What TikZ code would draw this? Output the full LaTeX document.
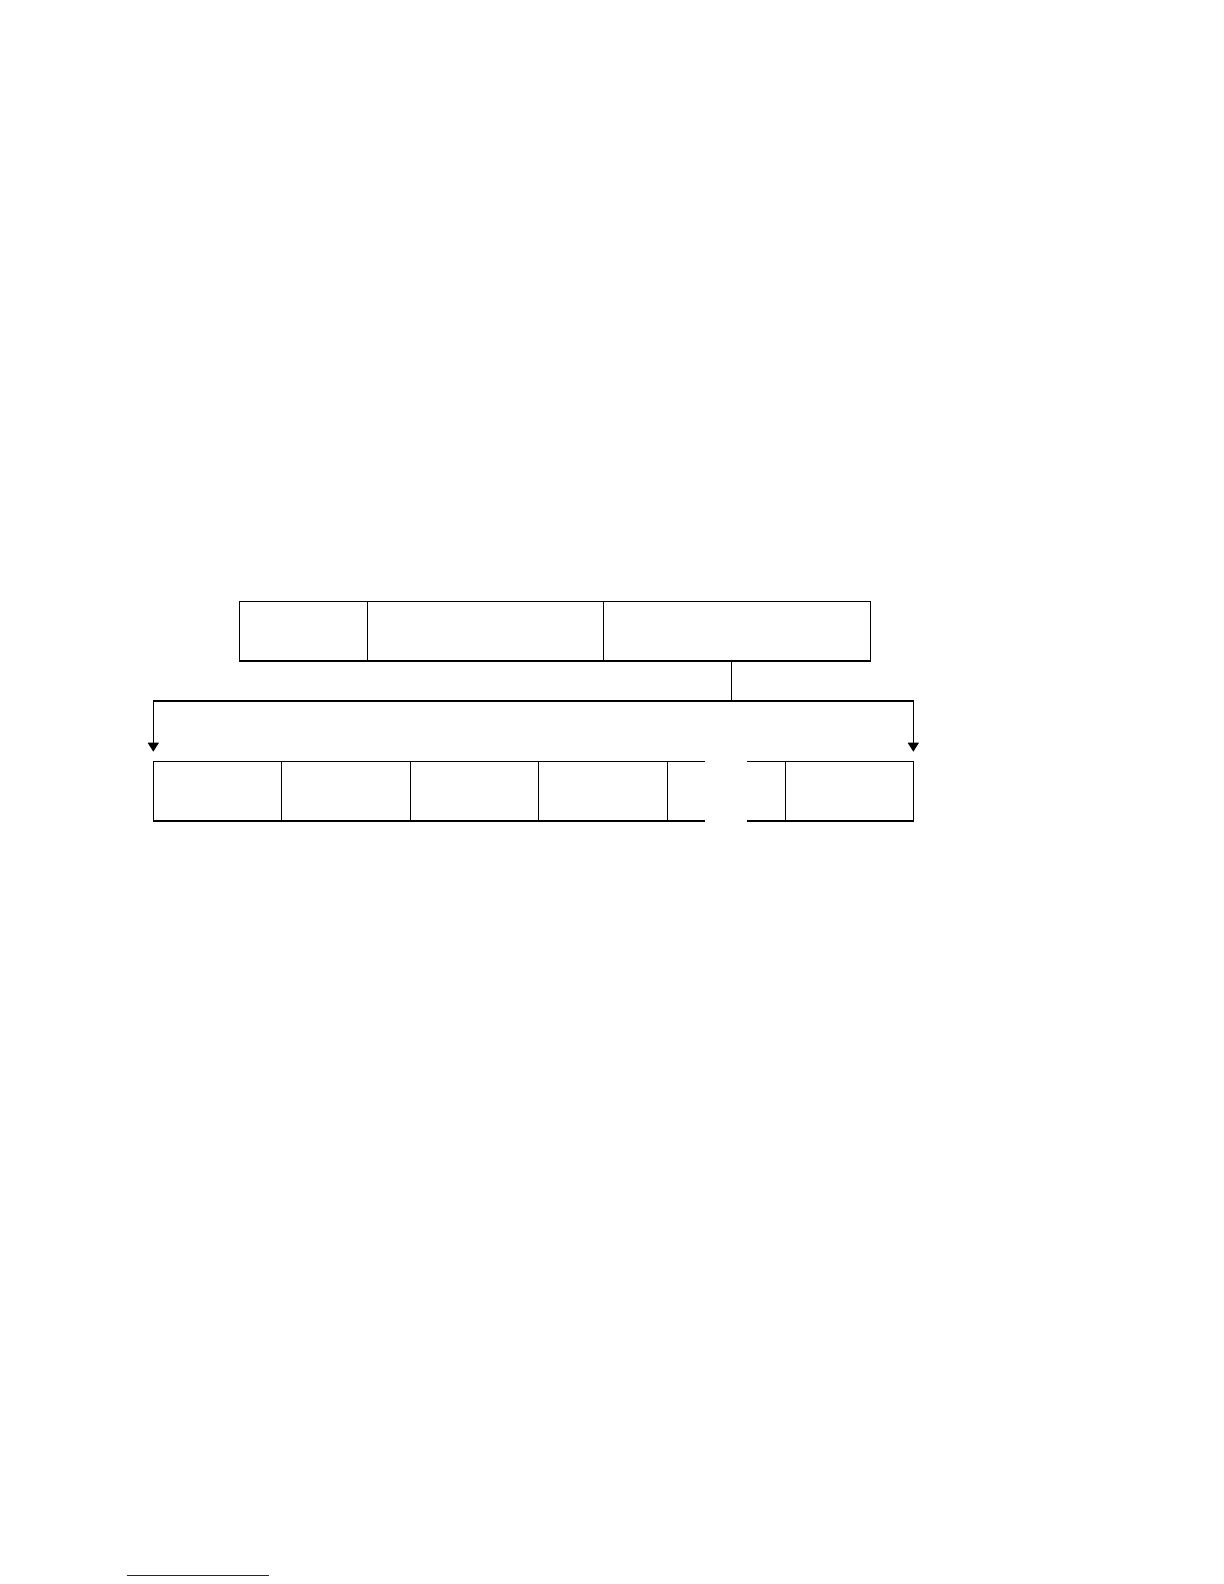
\documentclass[tikz,border=0pt]{standalone}
\usepackage{xcolor}
\usetikzlibrary{arrows.meta, calc, positioning}
\definecolor{rulenavy}{RGB}{25,25,140}

\begin{document}
\begin{tikzpicture}[x=0.5bp, y=-0.5bp, line width=0.6pt,
    cell/.style={draw, rectangle, inner sep=0pt, outer sep=0pt, minimum height=29.85bp, anchor=north west},
    gapcell/.style={rectangle, inner sep=0pt, outer sep=0pt, minimum height=29.85bp}]
        \useasboundingbox (0,0) rectangle (1224,1584);

        \node[cell, minimum width=64bp] (h1) at (239.3,601.3) {};
        \node[cell, minimum width=118bp, right=0pt of h1] (h2) {};
        \node[cell, minimum width=133.5bp, right=0pt of h2] (h3) {};

        \node[cell, minimum width=64bp] (b1) at (153.3,761.3) {};
        \node[cell, minimum width=64.5bp, right=0pt of b1] (b2) {};
        \node[cell, minimum width=64bp, right=0pt of b2] (b3) {};
        \node[cell, minimum width=64.5bp, right=0pt of b3] (b4) {};
        \node[gapcell, minimum width=59bp, right=0pt of b4] (b5) {};
        \node[cell, minimum width=64bp, right=0pt of b5] (b6) {};
        \draw (b5.north west) -- +(37.7,0) (b5.north east) -- +(-38.3,0);
        \draw (b5.south west) -- +(37.7,0) (b5.south east) -- +(-38.3,0);

        \coordinate (split) at (731.3,701);
        \draw (split |- h3.south) -- (split);
        \draw[-{Triangle[width=5.5bp,length=4.5bp]}] (split) -| ($(b1.north west)+(0,-9.6)$);
        \draw[-{Triangle[width=5.5bp,length=4.5bp]}] (split) -| ($(b6.north east)+(0,-9.6)$);

        \draw[rulenavy, line width=0.5pt] (127.3,1575) -- (269,1575);
\end{tikzpicture}
\end{document}
